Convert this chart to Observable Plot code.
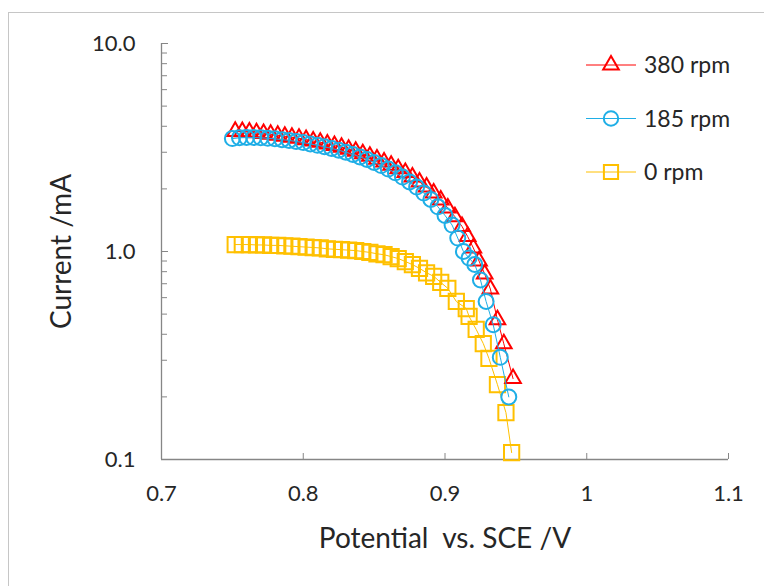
<!DOCTYPE html>
<html><head><meta charset="utf-8">
<script src="https://cdn.jsdelivr.net/npm/d3@7"></script>
<script src="https://cdn.jsdelivr.net/npm/@observablehq/plot@0.6"></script>
<style>
html,body{margin:0;padding:0;background:#fff;}
#wrap{position:relative;width:764px;height:586px;overflow:hidden;font-family:Lato,"Open Sans",sans-serif;}
#border{position:absolute;left:8px;top:12px;width:800px;height:800px;border:1px solid #c6c6c6;box-sizing:border-box;}
#chart{position:absolute;left:0;top:0;}
#legend{position:absolute;left:0;top:0;}
</style></head><body>
<div id="wrap"><div id="border"></div><div id="chart"></div><svg id="legend" width="764" height="586"></svg></div>
<script>
// 380 rpm
const x380 = [0.752,0.757,0.762,0.767,0.772,0.777,0.782,0.787,0.792,0.797,0.802,0.807,0.812,0.817,0.822,0.827,0.832,0.837,0.842,0.847,0.852,0.857,0.862,0.867,0.872,0.877,0.882,0.887,0.892,0.897,0.902,0.907,0.912,0.916,0.920,0.924,0.928,0.932,0.937,0.9415,0.948];
const y380 = [3.78,3.77,3.75,3.72,3.69,3.66,3.62,3.58,3.54,3.50,3.45,3.40,3.35,3.29,3.23,3.17,3.10,3.03,2.95,2.87,2.78,2.69,2.60,2.50,2.40,2.28,2.16,2.04,1.91,1.77,1.62,1.47,1.32,1.18,1.04,0.90,0.78,0.66,0.47,0.36,0.245];
// 185 rpm
const x185 = [0.750,0.755,0.760,0.765,0.770,0.775,0.780,0.785,0.790,0.795,0.800,0.805,0.810,0.815,0.820,0.825,0.830,0.835,0.840,0.845,0.850,0.855,0.860,0.865,0.870,0.875,0.880,0.885,0.890,0.895,0.900,0.905,0.909,0.913,0.917,0.921,0.925,0.929,0.934,0.939,0.945];
const y185 = [3.49,3.52,3.53,3.53,3.52,3.50,3.48,3.45,3.42,3.38,3.34,3.29,3.24,3.19,3.13,3.07,3.00,2.93,2.85,2.77,2.68,2.59,2.49,2.39,2.28,2.16,2.04,1.91,1.78,1.64,1.49,1.34,1.16,1.00,0.93,0.866,0.73,0.575,0.445,0.31,0.20];
// 0 rpm
const x0 = [0.752,0.757,0.762,0.767,0.772,0.777,0.782,0.787,0.792,0.797,0.802,0.807,0.812,0.817,0.822,0.827,0.832,0.837,0.842,0.847,0.852,0.857,0.862,0.867,0.872,0.877,0.882,0.887,0.892,0.897,0.902,0.908,0.915,0.917,0.922,0.927,0.931,0.937,0.943,0.947];
const y0 = [1.08,1.08,1.08,1.075,1.075,1.07,1.07,1.065,1.06,1.055,1.05,1.045,1.04,1.03,1.025,1.02,1.015,1.01,1.0,0.99,0.975,0.965,0.945,0.925,0.895,0.865,0.83,0.79,0.76,0.71,0.665,0.575,0.532,0.487,0.422,0.361,0.306,0.229,0.168,0.108];

const seriesNames = ["380 rpm","185 rpm","0 rpm"];
const seriesColors = ["#FF0000","#1FAEE6","#FFC000"];
const seriesSymbols = ["triangle","circle","square"];
const xTicks = [0.7,0.8,0.9,1,1.1];
const yMajor = [0.1,1,10];
const yMinor = [0.2,0.3,0.4,0.5,0.6,0.7,0.8,0.9,2,3,4,5,6,7,8,9];

const mk = (xs, ys) => xs.map((x,i)=>({x, y: ys[i]}));
const d380 = mk(x380,y380), d185 = mk(x185,y185), d0 = mk(x0,y0);

const axisColor = "#868686";
const txt = "#262626";
const chart = Plot.plot({
  width: 764, height: 586,
  marginLeft: 161, marginRight: 36, marginTop: 43, marginBottom: 127,
  style: {fontFamily: "Lato, 'Open Sans', sans-serif", fontSize: "22px", color: txt, background: "transparent"},
  x: {domain: [0.7,1.1]},
  y: {type: "log", domain: [0.1,10]},
  marks: [
    Plot.axisX({ticks: xTicks, tickSize: -6, tickPadding: 32, stroke: axisColor, fill: txt, tickFormat: d => String(d), label: null, fontSize: 22}),
    Plot.axisY({ticks: yMajor, tickSize: -7, tickPadding: 33, stroke: axisColor, fill: txt, tickFormat: d => d.toFixed(1), label: null, fontSize: 22}),
    Plot.axisY({ticks: yMinor, tickSize: -6, stroke: axisColor, tickFormat: () => "", label: null}),
    Plot.ruleX([0.7], {stroke: axisColor, strokeWidth: 1.3}),
    Plot.ruleY([0.1], {stroke: axisColor, strokeWidth: 1.3}),
    Plot.line(d0, {x: "x", y: "y", stroke: seriesColors[2], strokeWidth: 1}),
    Plot.dot(d0, {x: "x", y: "y", symbol: "square", r: 8.6, stroke: seriesColors[2], strokeWidth: 2, fill: "none"}),
    Plot.line(d380, {x: "x", y: "y", stroke: seriesColors[0], strokeWidth: 1}),
    Plot.dot(d380, {x: "x", y: "y", symbol: "triangle", r: 5.8, stroke: seriesColors[0], strokeWidth: 2, fill: "none"}),
    Plot.line(d185, {x: "x", y: "y", stroke: seriesColors[1], strokeWidth: 1}),
    Plot.dot(d185, {x: "x", y: "y", symbol: "circle", r: 7.5, stroke: seriesColors[1], strokeWidth: 2, fill: "none"}),
    Plot.text(["Potential  vs. SCE /V"], {frameAnchor: "bottom", textAnchor: "middle", dy: 88, fontSize: 28, fill: txt, text: d => d}),
    Plot.text(["Current /mA"], {frameAnchor: "left", textAnchor: "middle", dx: -99, rotate: -90, fontSize: 28, fill: txt, text: d => d})
  ]
});
document.getElementById("chart").appendChild(chart);

// legend
const lg = d3.select("#legend");
const symMap = {triangle: d3.symbolTriangle, circle: d3.symbolCircle, square: d3.symbolSquare};
const symSize = {triangle: Math.PI*5.8*5.8, circle: Math.PI*7.2*7.2, square: Math.PI*8*8};
seriesNames.forEach((name,i) => {
  const y = 65 + i*53.5;
  const g = lg.append("g");
  g.append("line").attr("x1",586).attr("x2",636).attr("y1",y).attr("y2",y).attr("stroke",seriesColors[i]).attr("stroke-width",1);
  g.append("path").attr("d", d3.symbol(symMap[seriesSymbols[i]], symSize[seriesSymbols[i]])()).attr("transform",`translate(611,${y})`).attr("fill","none").attr("stroke",seriesColors[i]).attr("stroke-width",2);
  g.append("text").attr("x",644).attr("y",y).attr("dy","0.35em").attr("font-size",23).attr("fill",txt).attr("font-family","Lato, 'Open Sans', sans-serif").text(name);
});
</script>
</body></html>
